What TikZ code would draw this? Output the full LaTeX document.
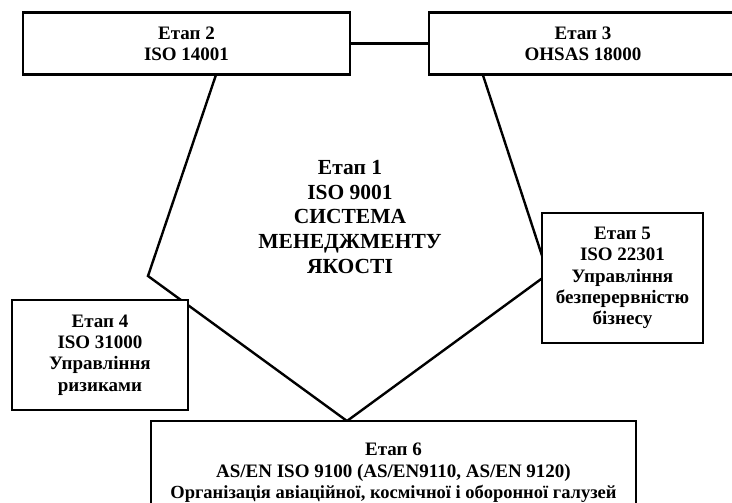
\documentclass[tikz,border=0pt]{standalone}
\usepackage{fontspec}
\setmainfont{Liberation Serif}
\tikzset{
  stagebox/.style={draw, line width=2.8pt, fill=white, inner sep=0pt, outer sep=0pt,
    align=center, font=\fontsize{19}{21.3}\selectfont\bfseries},
  centertext/.style={inner sep=0pt, align=center, font=\fontsize{21.5}{24.6}\selectfont\bfseries},
  pentline/.style={line width=2.4pt, line join=miter},
  linkline/.style={line width=2.8pt}
}
\begin{document}
\begin{tikzpicture}[x=1pt,y=-1pt]
\useasboundingbox (0,0) rectangle (732,503);
\clip (0,0) rectangle (732,503);
% pentagon vertices
\coordinate (pA) at (221,60);
\coordinate (pB) at (148,276);
\coordinate (pC) at (347,421);
\coordinate (pD) at (548,274);
\coordinate (pE) at (478,60);
\draw[pentline] (pA) -- (pB) -- (pC) -- (pD) -- (pE);
% boxes
\node[stagebox, minimum width=327pt, minimum height=62pt] (s2) at (186.5,43.5) {Етап 2\\ISO 14001};
\node[stagebox, minimum width=308pt, minimum height=62pt] (s3) at (583,43.5) {Етап 3\\OHSAS 18000};
\node[stagebox, minimum width=176pt, minimum height=110pt] (s4) at (100,355) {Етап 4\\ISO 31000\\Управління\\ризиками};
\node[stagebox, minimum width=161pt, minimum height=130pt] (s5) at (622.5,278) {Етап 5\\ISO 22301\\Управління\\безперервністю\\бізнесу};
\node[stagebox, minimum width=485pt, minimum height=104pt] (s6) at (393.5,473) {Етап 6\\AS/EN ISO 9100 (AS/EN9110, AS/EN 9120)\\{\fontsize{18.5}{21.3}\selectfont Організація авіаційної, космічної і оборонної галузей}};
\node[centertext] (s1) at (350,217) {Етап 1\\ISO 9001\\СИСТЕМА\\МЕНЕДЖМЕНТУ\\ЯКОСТІ};
\draw[linkline] (s2.east) -- (s3.west);
\end{tikzpicture}
\end{document}
